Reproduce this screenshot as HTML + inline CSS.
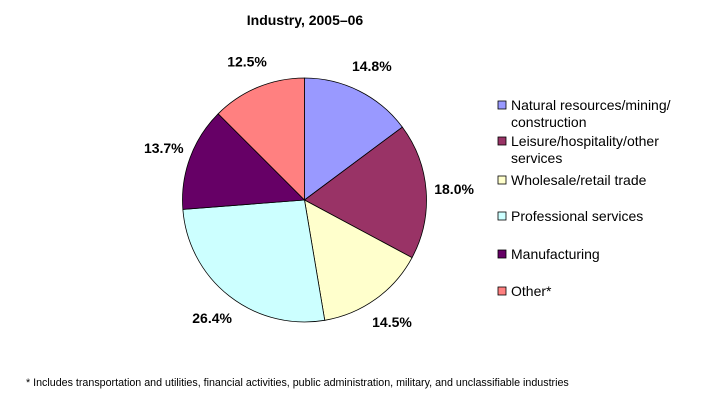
<!DOCTYPE html>
<html><head><meta charset="utf-8"><style>
body{margin:0;background:#fff;}
svg{display:block;font-family:"Liberation Sans",Arial,sans-serif;}
</style></head><body>
<svg width="718" height="410" viewBox="0 0 718 410">
<text x="305" y="25" text-anchor="middle" font-size="14" font-weight="bold">Industry, 2005–06</text>
<g id="pie"></g>
<g id="labels"></g>
<g id="legend"></g>
<text x="26" y="386" font-size="10.7">* Includes transportation and utilities, financial activities, public administration, military, and unclassifiable industries</text>
</svg>
<script>
const categories=[["Natural resources/mining/","construction"],["Leisure/hospitality/other","services"],["Wholesale/retail trade"],["Professional services"],["Manufacturing"],["Other*"]];
const values=[14.8,18.0,14.5,26.4,13.7,12.5];
const labels=["14.8%","18.0%","14.5%","26.4%","13.7%","12.5%"];
const colors=["#9999FF","#993366","#FFFFCC","#CCFFFF","#660066","#FF8080"];
const NS="http://www.w3.org/2000/svg";
const cx=304.5,cy=200,r=122,lr=150;
const total=values.reduce((a,b)=>a+b,0);
const pie=document.getElementById('pie'),lab=document.getElementById('labels'),leg=document.getElementById('legend');
function pt(a,rad){return [cx+rad*Math.sin(a),cy-rad*Math.cos(a)];}
let acc=0;
values.forEach((v,i)=>{
  const a0=acc/total*2*Math.PI;acc+=v;const a1=acc/total*2*Math.PI;
  const p0=pt(a0,r),p1=pt(a1,r);
  const path=document.createElementNS(NS,'path');
  path.setAttribute('d',`M${cx},${cy}L${p0[0]},${p0[1]}A${r},${r} 0 ${a1-a0>Math.PI?1:0} 1 ${p1[0]},${p1[1]}Z`);
  path.setAttribute('fill',colors[i]);path.setAttribute('stroke','#000');path.setAttribute('stroke-width','0.8');
  
  
  pie.appendChild(path);
  const m=pt((a0+a1)/2,lr);
  const t=document.createElementNS(NS,'text');
  t.setAttribute('x',m[0]);t.setAttribute('y',m[1]+5);t.setAttribute('text-anchor','middle');
  t.setAttribute('font-size','14');t.setAttribute('font-weight','bold');t.textContent=labels[i];
  
  
  lab.appendChild(t);
});
const ly=[105,141,180,216,254,291];
categories.forEach((c,i)=>{
  const g=document.createElementNS(NS,'g');
  
  
  const s=document.createElementNS(NS,'rect');
  s.setAttribute('x',498);s.setAttribute('y',ly[i]-4);s.setAttribute('width',8);s.setAttribute('height',8);
  s.setAttribute('fill',colors[i]);s.setAttribute('stroke','#000');s.setAttribute('stroke-width','0.8');
  g.appendChild(s);
  c.forEach((line,j)=>{
    const t=document.createElementNS(NS,'text');
    t.setAttribute('x',511);t.setAttribute('y',ly[i]+5+j*17);t.setAttribute('font-size','14');t.textContent=line;
    g.appendChild(t);
  });
  leg.appendChild(g);
});
</script>
</body></html>
